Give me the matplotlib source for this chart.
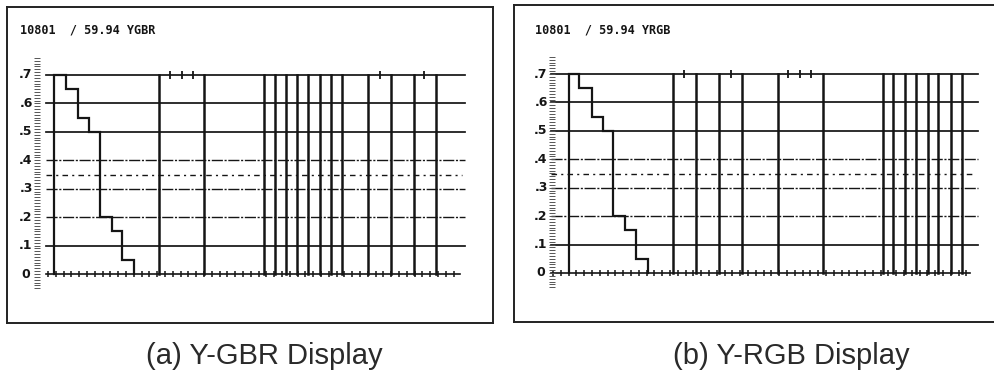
import matplotlib
matplotlib.use('Agg')
import matplotlib.pyplot as plt
import numpy as np

# DATA (x in display units measured from the start of the graticule, y in volts)
y_labels = ['.7', '.6', '.5', '.4', '.3', '.2', '.1', '0']
y_label_vals = [0.7, 0.6, 0.5, 0.4, 0.3, 0.2, 0.1, 0.0]
solid_levels = [0.7, 0.6, 0.5, 0.1]
dashed_levels = [0.4, 0.3, 0.2]
dashdot_level = 0.35

# staircase (Y channel) levels and edges
stair_levels = [0.7, 0.65, 0.55, 0.5, 0.2, 0.15, 0.05, 0.0]
stair_edges_a = [6, 18, 30, 41, 52, 64, 74, 86]
stair_edges_b = [16, 26, 39, 50, 60, 72, 83, 95]

# component transitions (full-height vertical strokes)
verticals_a = [111, 156, 216, 227, 238, 249, 260, 272, 283, 294, 320, 343, 366, 388]
verticals_b = [120, 143, 166, 189, 225, 270, 330, 340, 352, 363, 375, 385, 398, 409]

# small marks riding on the .7 line
top_marks_a = [122, 134, 145, 332, 376]
top_marks_b = [131, 178, 235, 247, 258]

headers = ['10801  / 59.94 YGBR', '10801  / 59.94 YRGB']
captions = ['(a) Y-GBR Display', '(b) Y-RGB Display']

W, H = 995, 371
fig = plt.figure(figsize=(W / 100, H / 100), dpi=100)

# panel layout in pixels: frame box, graticule origin, line end
panels = [
    dict(box=(7, 7, 493, 323), x0=48, y0=274, y7=75, xend=417, bend=412,
         edges=stair_edges_a, verts=verticals_a, marks=top_marks_a,
         lab_x=-22, ruler_x=-11, head_x=-28, cap_x=264),
    dict(box=(514, 5, 1003, 322), x0=553, y0=273, y7=74, xend=425, bend=417,
         edges=stair_edges_b, verts=verticals_b, marks=top_marks_b,
         lab_x=-12, ruler_x=-1, head_x=-18, cap_x=791),
]

ink = '#151515'
for i, p in enumerate(panels):
    l, t, r, b = p['box']
    ax = fig.add_axes([l / W, 1 - b / H, (r - l) / W, (b - t) / H])
    vpp = 0.7 / (p['y0'] - p['y7'])  # volts per pixel
    ax.set_xlim(l - p['x0'], r - p['x0'])
    ax.set_ylim(-(b - p['y0']) * vpp, (p['y0'] - t) * vpp)
    ax.set_xticks([])
    ax.set_yticks([])
    for s in ax.spines.values():
        s.set_linewidth(1.4)
        s.set_color('#222222')

    # graticule
    for lv in solid_levels:
        ax.plot([-2, p['xend']], [lv, lv], color=ink, lw=1.25)
    for lv in dashed_levels:
        ax.plot([-2, p['xend']], [lv, lv], color=ink, lw=1.0, ls=(0, (8, 1.2, 1.5, 1.2)))
    ax.plot([-2, p['xend'] - 3], [dashdot_level] * 2, color=ink, lw=1.0, ls=(0, (4, 3, 1.5, 3)))

    # baseline with tick marks
    ax.plot([-2, p['bend']], [0, 0], color=ink, lw=1.2)
    bt = np.arange(0, p['bend'] + 1, 7.8)
    ax.plot(bt, np.zeros_like(bt), ls='none', marker='|', ms=5, mew=1.1, color=ink)

    # vertical ruler on the left
    rv = np.arange(-0.05, 0.77, 0.01)
    ax.plot(np.full_like(rv, p['ruler_x']), rv, ls='none', marker='_', ms=4.5, mew=0.7, color='#555555')

    # staircase
    sx = [p['edges'][0]]
    sy = [0.0]
    for k, lv in enumerate(stair_levels[:-1]):
        sx += [p['edges'][k], p['edges'][k + 1]]
        sy += [lv, lv]
    sx.append(p['edges'][-1])
    sy.append(0.0)
    ax.plot(sx, sy, color=ink, lw=1.6, solid_joinstyle='miter')

    # component transitions
    for v in p['verts']:
        ax.plot([v, v], [0, 0.7], color=ink, lw=1.8)

    ax.plot(p['marks'], [0.7] * len(p['marks']), ls='none', marker='|', ms=6, mew=1.3, color=ink)

    # labels
    for lab, val in zip(y_labels, y_label_vals):
        ax.text(p['lab_x'], val, lab, ha='center', va='center', fontsize=9,
                fontweight='bold', family='DejaVu Sans', color=ink)
    ax.text(p['head_x'], (p['y0'] - 30) * vpp, headers[i], ha='left', va='center',
            fontsize=8.5, fontweight='bold', family='DejaVu Sans Mono', color=ink)

    fig.text(p['cap_x'] / W, 1 - 356 / H, captions[i], ha='center', va='center',
             fontsize=21, family='Liberation Sans', color='#2a2a2a')

fig.savefig('out.png', dpi=100)
